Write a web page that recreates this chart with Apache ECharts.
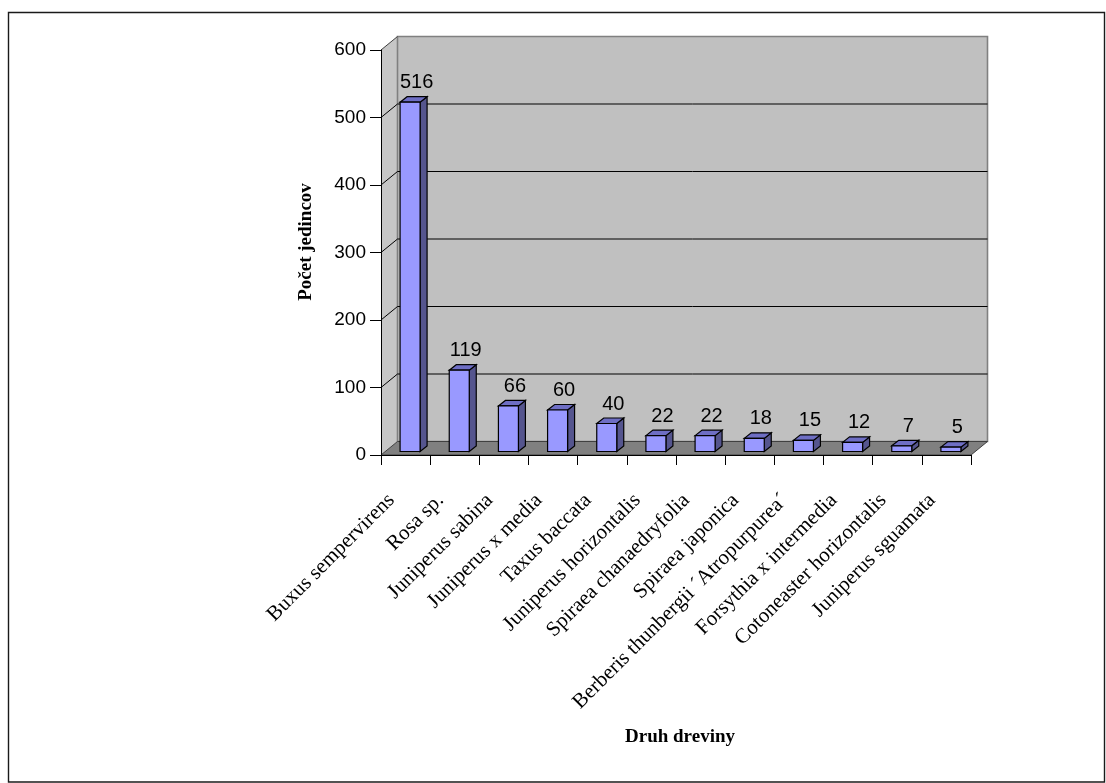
<!DOCTYPE html>
<html>
<head>
<meta charset="utf-8">
<title>Počet jedincov podľa druhu dreviny</title>
<script src="https://cdn.jsdelivr.net/npm/echarts@6/dist/echarts.min.js"></script>
<style>
  html, body { margin: 0; padding: 0; background: #ffffff; }
  #chart { width: 1106px; height: 783px; }
</style>
</head>
<body>
<div id="chart"></div>
<script>
// Druh dreviny (species) and number of individuals
const categories = [
  'Buxus sempervirens',
  'Rosa sp.',
  'Juniperus sabina',
  'Juniperus x media',
  'Taxus baccata',
  'Juniperus horizontalis',
  'Spiraea chanaedryfolia',
  'Spiraea japonica',
  'Berberis thunbergii \u00B4Atropurpurea\u00B4',
  'Forsythia x intermedia',
  'Cotoneaster horizontalis',
  'Juniperus sguamata'
];
const counts = [516, 119, 66, 60, 40, 22, 22, 18, 15, 12, 7, 5];
const yMin = 0;
const yMax = 600;
const yStep = 100;
const gridValues = [100, 200, 300, 400, 500];

// Pseudo-3D depth of the plot box and of each column (pixels)
const DEPTH_X = 16.5, DEPTH_Y = 13.5;
const BAR_DX = 7, BAR_DY = 5.5;

const chart = echarts.init(document.getElementById('chart'), null, { renderer: 'canvas' });

function renderWalls(params, api) {
  const cs = params.coordSys;
  const x0 = cs.x, x1 = cs.x + cs.width;
  const yTop = api.coord([0, yMax])[1];
  const yBot = api.coord([0, yMin])[1];
  const children = [];
  // side wall (left)
  children.push({
    type: 'polygon',
    shape: { points: [[x0, yTop], [x0 + DEPTH_X, yTop - DEPTH_Y], [x0 + DEPTH_X, yBot - DEPTH_Y], [x0, yBot]] },
    style: { fill: '#c6c6c6', stroke: 'none' }
  });
  // back wall
  children.push({
    type: 'rect',
    shape: { x: x0 + DEPTH_X, y: yTop - DEPTH_Y, width: x1 - x0, height: yBot - yTop },
    style: { fill: '#c0c0c0', stroke: '#808080', lineWidth: 1.6 }
  });
  // floor
  children.push({
    type: 'polygon',
    shape: { points: [[x0, yBot], [x0 + DEPTH_X, yBot - DEPTH_Y], [x1 + DEPTH_X, yBot - DEPTH_Y], [x1, yBot]] },
    style: { fill: '#808080', stroke: '#404040', lineWidth: 1 }
  });
  // gridlines across the back wall and the side wall
  gridValues.forEach(function (v) {
    const y = api.coord([0, v])[1];
    children.push({
      type: 'polyline',
      shape: { points: [[x0, y], [x0 + DEPTH_X, y - DEPTH_Y], [x1 + DEPTH_X, y - DEPTH_Y]] },
      style: { stroke: '#000000', lineWidth: 1, fill: 'none' }
    });
  });
  // top edge of the side wall
  children.push({
    type: 'line',
    shape: { x1: x0, y1: yTop, x2: x0 + DEPTH_X, y2: yTop - DEPTH_Y },
    style: { stroke: '#404040', lineWidth: 1 }
  });
  return { type: 'group', children: children };
}

function renderBar(params, api) {
  const idx = api.value(0);
  const val = api.value(1);
  const base = api.coord([idx, 0]);
  const top = api.coord([idx, val]);
  const cx = base[0];
  const left = cx - 5.5, right = cx + 14.5;
  const yb = base[1] - 3.5;
  const yt = top[1] - 4.5;
  const line = { stroke: '#000000', lineWidth: 1.2, lineJoin: 'miter' };
  return {
    type: 'group',
    children: [
      { type: 'polygon', shape: { points: [[right, yt], [right + BAR_DX, yt - BAR_DY], [right + BAR_DX, yb - BAR_DY], [right, yb]] },
        style: Object.assign({ fill: '#55558e' }, line) },
      { type: 'polygon', shape: { points: [[left, yt], [left + BAR_DX, yt - BAR_DY], [right + BAR_DX, yt - BAR_DY], [right, yt]] },
        style: Object.assign({ fill: '#6e6ec4' }, line) },
      { type: 'rect', shape: { x: left, y: yt, width: right - left, height: yb - yt },
        style: Object.assign({ fill: '#9999ff' }, line) },
      { type: 'text',
        style: { text: String(val), x: cx + 11, y: yt - BAR_DY - 4, align: 'center', verticalAlign: 'bottom',
                 font: '20px "Liberation Sans", Arial, sans-serif', fill: '#000000' } }
    ]
  };
}

const option = {
  backgroundColor: '#ffffff',
  animation: false,
  grid: { left: 381, top: 50, width: 590, height: 405, containLabel: false },
  xAxis: {
    type: 'category',
    data: categories,
    boundaryGap: true,
    z: 5,
    axisLine: { show: true, lineStyle: { color: '#000000', width: 1 } },
    axisTick: { show: true, length: 10, inside: false, alignWithLabel: false, interval: 0, lineStyle: { color: '#000000' } },
    axisLabel: {
      interval: 0, rotate: 45, margin: 28, color: '#000000',
      padding: [0, 20, 0, 0],
      fontFamily: '"Liberation Serif", "Times New Roman", serif', fontSize: 21
    },
    splitLine: { show: false }
  },
  yAxis: {
    type: 'value',
    min: yMin, max: yMax, interval: yStep,
    z: 5,
    axisLine: { show: true, lineStyle: { color: '#000000', width: 1 } },
    axisTick: { show: true, length: 11, inside: false, lineStyle: { color: '#000000' } },
    axisLabel: {
      margin: 15, color: '#000000',
      fontFamily: '"Liberation Sans", Arial, sans-serif', fontSize: 19
    },
    splitLine: { show: false }
  },
  graphic: [
    { type: 'rect', z: 0, silent: true,
      shape: { x: 8.5, y: 12.5, width: 1096, height: 769.5 },
      style: { fill: 'none', stroke: '#1a1a1a', lineWidth: 1.4 } },
    { type: 'text', z: 10, silent: true, x: 306, y: 242, rotation: Math.PI / 2,
      style: { text: 'Počet jedincov', align: 'center', verticalAlign: 'middle',
               font: 'bold 19px "Liberation Serif", "Times New Roman", serif', fill: '#000000' } },
    { type: 'text', z: 10, silent: true, x: 680, y: 737,
      style: { text: 'Druh dreviny', align: 'center', verticalAlign: 'middle',
               font: 'bold 19px "Liberation Serif", "Times New Roman", serif', fill: '#000000' } }
  ],
  series: [
    {
      type: 'custom', name: 'walls', z: 1, silent: true, clip: false,
      renderItem: renderWalls,
      data: [[0, yMin]]
    },
    {
      type: 'custom', name: 'Počet jedincov', z: 3, silent: true, clip: false,
      renderItem: renderBar,
      encode: { x: 0, y: 1 },
      data: counts.map(function (v, i) { return [i, v]; })
    }
  ]
};

chart.setOption(option);
</script>
</body>
</html>
